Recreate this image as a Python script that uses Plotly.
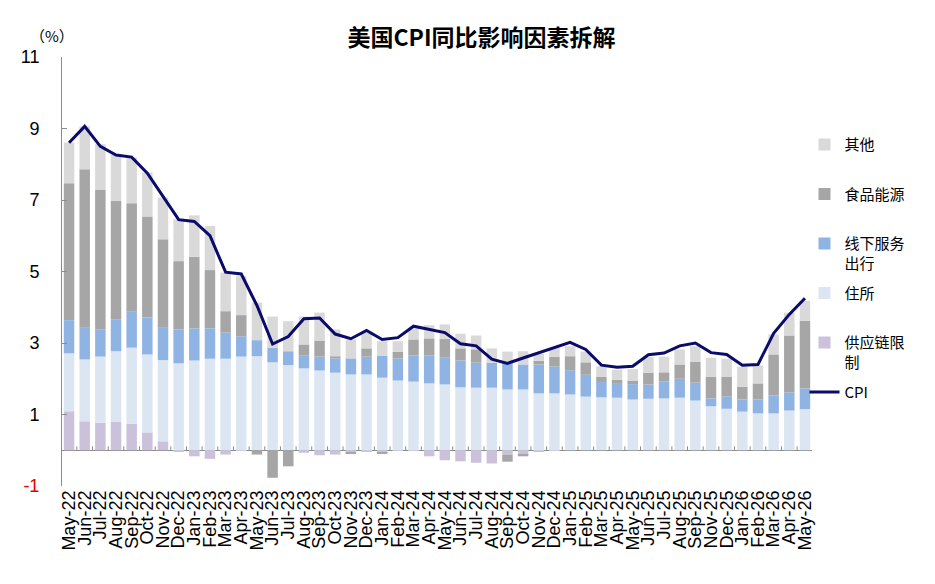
import plotly.graph_objects as go

months = ["May-22","Jun-22","Jul-22","Aug-22","Sep-22","Oct-22","Nov-22","Dec-22",
          "Jan-23","Feb-23","Mar-23","Apr-23","May-23","Jun-23","Jul-23","Aug-23","Sep-23","Oct-23","Nov-23","Dec-23",
          "Jan-24","Feb-24","Mar-24","Apr-24","May-24","Jun-24","Jul-24","Aug-24","Sep-24","Oct-24","Nov-24","Dec-24",
          "Jan-25","Feb-25","Mar-25","Apr-25","May-25","Jun-25","Jul-25","Aug-25","Sep-25","Nov-25","Dec-25",
          "Jan-26","Feb-26","Mar-26","Apr-26","May-26"]

supply = [1.09,0.81,0.77,0.79,0.74,0.50,0.25,-0.03,
          -0.17,-0.24,-0.12,-0.02,0.00,0.00,0.00,-0.07,-0.14,-0.12,-0.07,-0.03,
          -0.07,-0.02,-0.02,-0.17,-0.28,-0.31,-0.35,-0.37,-0.12,-0.12,-0.05,-0.02,
          0,0,0,0,0,0,0,0,0,0,0,
          0,0,0,0,0]
housing = [1.62,1.73,1.85,1.98,2.13,2.18,2.27,2.43,
           2.51,2.56,2.56,2.62,2.63,2.46,2.38,2.29,2.23,2.17,2.12,2.12,
           2.03,1.95,1.92,1.87,1.84,1.76,1.75,1.75,1.70,1.70,1.59,1.59,
           1.56,1.50,1.48,1.47,1.42,1.44,1.45,1.47,1.39,1.23,1.16,
           1.08,1.03,1.03,1.11,1.15]
services = [0.93,0.89,0.76,0.89,1.02,1.03,0.91,0.95,
            0.90,0.85,0.73,0.57,0.45,0.41,0.39,0.37,0.39,0.40,0.45,0.50,
            0.62,0.62,0.73,0.78,0.75,0.75,0.70,0.70,0.75,0.70,0.81,0.75,
            0.68,0.61,0.43,0.41,0.43,0.40,0.48,0.53,0.50,0.22,0.35,
            0.34,0.39,0.50,0.51,0.58]
food_energy = [3.83,4.43,3.90,3.31,3.02,2.83,2.47,1.91,
               2.00,1.63,0.60,0.59,-0.12,-0.77,-0.45,0.30,0.45,0.06,-0.02,0.23,
               -0.02,0.18,0.45,0.48,0.53,0.34,0.37,0.00,-0.20,-0.05,0.10,0.27,
               0.39,0.35,0.14,0.09,0.10,0.33,0.25,0.40,0.58,0.61,0.55,
               0.36,0.45,1.15,1.59,1.89]
other = [1.14,1.20,1.28,1.31,1.28,1.23,1.17,1.17,
         1.16,1.23,1.08,1.09,1.05,0.87,0.84,0.78,0.78,0.75,0.53,0.44,
         0.40,0.30,0.31,0.37,0.40,0.41,0.39,0.40,0.31,0.37,0.20,0.25,
         0.28,0.30,0.30,0.28,0.32,0.44,0.44,0.42,0.44,0.53,0.50,
         0.56,0.50,0.56,0.64,0.56]
cpi = [8.6,9.06,8.5,8.26,8.2,7.75,7.1,6.45,
       6.4,6.0,4.98,4.93,4.05,2.97,3.18,3.68,3.7,3.25,3.12,3.35,
       3.1,3.15,3.47,3.38,3.29,2.98,2.92,2.55,2.43,2.58,2.72,2.88,
       3.02,2.82,2.38,2.32,2.35,2.67,2.72,2.92,3.0,2.73,2.68,
       2.38,2.4,3.27,3.8,4.25]

y_ticks = [-1, 1, 3, 5, 7, 9, 11]
y_ticktext = ["<span style='color:#e00000'>-1</span>", "1", "3", "5", "7", "9", "11"]

series = [
    ("供应链限<br>制", supply, "#ccc1da", 5),
    ("住所<br> ", housing, "#dce6f2", 4),
    ("线下服务<br>出行", services, "#8fb4e3", 3),
    ("食品能源<br> ", food_energy, "#a6a6a6", 2),
    ("其他<br> ", other, "#d9d9d9", 1),
]

fig = go.Figure()
for name, vals, color, rank in series:
    fig.add_trace(go.Bar(x=months, y=vals, name=name, marker_color=color,
                         marker_line_width=0, legendrank=rank, legendgroup=name))
fig.add_trace(go.Scatter(x=months, y=cpi, name="CPI<br> ", mode="lines",
                         line=dict(color="#0b0b6b", width=3), legendrank=6, legendgroup="CPI"))

n = len(months)
shapes = [dict(type="line", xref="x", yref="y", x0=i + 0.5, x1=i + 0.5, y0=0, y1=0.11,
               line=dict(color="#8c8c8c", width=1)) for i in range(n - 1)]

fig.update_layout(
    width=935, height=584,
    margin=dict(l=62, r=123, t=57, b=98),
    paper_bgcolor="white", plot_bgcolor="white",
    barmode="relative", bargap=0.33,
    font=dict(family="Liberation Sans, Arial, sans-serif", size=16, color="black"),
    title=dict(text="<b>美国CPI同比影响因素拆解</b>", x=0.515, xanchor="center",
               y=1 - 38 / 584, yanchor="middle", yref="container",
               font=dict(family="Noto Sans CJK SC", size=23, color="black")),
    xaxis=dict(type="category", range=[-0.45, n - 0.55], tickangle=-90,
               tickmode="array", tickvals=months, ticktext=months,
               showline=False, ticks="", showgrid=False, zeroline=False,
               tickfont=dict(size=18, family="Liberation Sans, Arial"), automargin=False),
    yaxis=dict(range=[-1, 11], tickvals=y_ticks, ticktext=y_ticktext, showgrid=False,
               zeroline=True, zerolinecolor="#8c8c8c", zerolinewidth=1,
               showline=True, linecolor="#8c8c8c", linewidth=1,
               ticks="inside", ticklen=5, tickcolor="#8c8c8c", ticklabelstandoff=18,
               tickfont=dict(size=18, family="Liberation Sans, Arial"), automargin=False),
    legend=dict(x=0.99, xanchor="left", y=0.834, yanchor="top", traceorder="grouped",
                tracegroupgap=7.5, valign="top", bgcolor="rgba(0,0,0,0)",
                font=dict(family="Noto Sans CJK SC", size=15, color="black")),
    shapes=shapes,
    annotations=[dict(text="（%）", xref="paper", yref="paper", x=-0.013, y=1.051,
                      xanchor="center", yanchor="middle", showarrow=False,
                      font=dict(family="Noto Sans CJK SC", size=15, color="black"))],
)

fig.write_html("out.html")
